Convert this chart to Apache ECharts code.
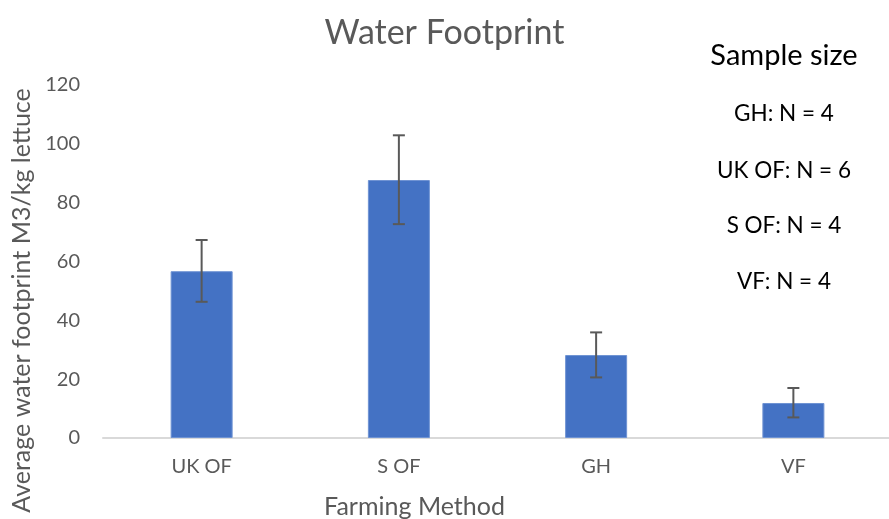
<!DOCTYPE html>
<html>
<head>
<meta charset="utf-8">
<script src="https://cdn.jsdelivr.net/npm/echarts@6/dist/echarts.min.js"></script>
<style>
html,body{margin:0;padding:0;background:#fff;}
#chart{width:889px;height:519px;}
</style>
</head>
<body>
<div id="chart"></div>
<script>
const categories = ['UK OF', 'S OF', 'GH', 'VF'];
const meanValues = [56.7, 87.7, 28.2, 11.9];
const errorLow = [46.3, 72.7, 20.6, 7.0];
const errorHigh = [67.3, 102.9, 35.9, 17.0];
const yTicks = [0, 20, 40, 60, 80, 100, 120];
const sampleTitle = 'Sample size';
const sampleLines = ['GH: N = 4', 'UK OF: N = 6', 'S OF: N = 4', 'VF: N = 4'];

const FONT = 'Lato, "Open Sans", sans-serif';
const chart = echarts.init(document.getElementById('chart'));

const errData = categories.map((c, i) => [i, errorLow[i], errorHigh[i]]);

const sampleGraphics = [{
  type: 'text', x: 784, y: 56,
  style: { text: sampleTitle, font: '29px ' + FONT, fill: '#000', textAlign: 'center', textVerticalAlign: 'middle' }
}];
const lineY = [114, 171, 226, 282];
sampleLines.forEach((t, i) => {
  sampleGraphics.push({
    type: 'text', x: 784, y: lineY[i],
    style: { text: t, font: '22.5px ' + FONT, fill: '#000', textAlign: 'center', textVerticalAlign: 'middle' }
  });
});

chart.setOption({
  animation: false,
  backgroundColor: '#fff',
  title: {
    text: 'Water Footprint',
    left: 'center',
    top: 11,
    textStyle: { color: '#595959', fontSize: 34, fontWeight: 'normal', fontFamily: FONT }
  },
  grid: { left: 103, top: 85, width: 789, height: 353, containLabel: false, outerBoundsMode: 'none' },
  xAxis: {
    type: 'category',
    data: categories,
    axisLine: { lineStyle: { color: '#d9d9d9', width: 2 } },
    axisTick: { show: false },
    axisLabel: { color: '#595959', fontSize: 20, fontFamily: FONT, margin: 19 },
    name: 'Farming Method',
    nameLocation: 'middle',
    nameGap: 56,
    nameTextStyle: { color: '#595959', fontSize: 25, fontFamily: FONT, padding: [0, 166, 0, 0] }
  },
  yAxis: {
    type: 'value',
    min: yTicks[0],
    max: yTicks[yTicks.length - 1],
    interval: yTicks[1] - yTicks[0],
    splitLine: { show: false },
    axisLine: { show: false },
    axisTick: { show: false },
    axisLabel: { color: '#595959', fontSize: 20, fontFamily: FONT, margin: 23 },
    name: 'Average water footprint M3/kg lettuce',
    nameLocation: 'middle',
    nameGap: 69,
    nameTextStyle: { color: '#595959', fontSize: 25, fontFamily: FONT, padding: [0, 78, 0, 0] }
  },
  series: [
    {
      type: 'bar',
      data: meanValues,
      barWidth: 62,
      itemStyle: { color: '#4472c4', borderColor: '#6f93d3', borderWidth: 1 }
    },
    {
      type: 'custom',
      data: errData,
      z: 10,
      renderItem: function (params, api) {
        const x = api.value(0);
        const lo = api.coord([x, api.value(1)]);
        const hi = api.coord([x, api.value(2)]);
        const hw = 6;
        const st = { stroke: '#595959', lineWidth: 2 };
        return {
          type: 'group',
          children: [
            { type: 'line', shape: { x1: lo[0], y1: lo[1], x2: hi[0], y2: hi[1] }, style: st },
            { type: 'line', shape: { x1: hi[0] - hw, y1: hi[1], x2: hi[0] + hw, y2: hi[1] }, style: st },
            { type: 'line', shape: { x1: lo[0] - hw, y1: lo[1], x2: lo[0] + hw, y2: lo[1] }, style: st }
          ]
        };
      }
    }
  ],
  graphic: sampleGraphics
});
</script>
</body>
</html>
